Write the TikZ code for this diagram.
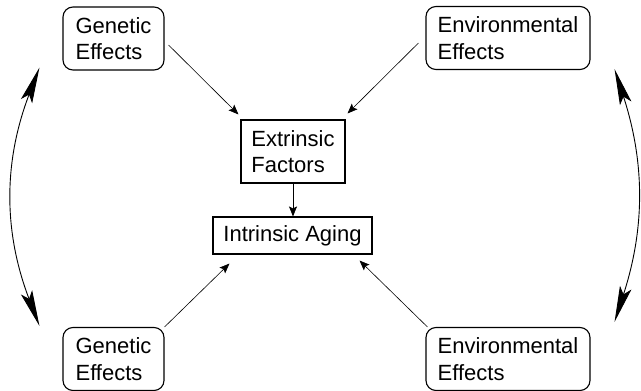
\documentclass[tikz,border=0pt]{standalone}
\usepackage{fontspec}
\setmainfont{Liberation Sans}
\usetikzlibrary{arrows.meta,positioning}

\begin{document}
\begin{tikzpicture}[x=1pt,y=-1pt,
    every node/.style={font=\fontsize{22}{26.5}\selectfont, inner sep=0pt},
    effectbox/.style={draw, line width=1.1pt, rounded corners=10pt, align=left, minimum height=63pt},
    factorbox/.style={draw, line width=1.1pt, align=left},
    link/.style={line width=0.6pt, -{Stealth[length=10pt,width=8pt,inset=2pt]}},
    swing/.style={line width=0.9pt, {Stealth[length=36pt,width=12pt,inset=7pt]}-{Stealth[length=36pt,width=12pt,inset=7pt]}}]
    \useasboundingbox (0,0) rectangle (641,391);

    % The four sources of influence, one per corner
    \foreach \name/\x/\y/\w/\txt in {gtop/113.5/38.5/101/{Genetic\\Effects},
                                    etop/508/38/164/{Environmental\\Effects},
                                    gbot/113.5/359/101/{Genetic\\Effects},
                                    ebot/508/359/164/{Environmental\\Effects}}{
        \node[effectbox, minimum width=\w pt] (\name) at (\x,\y) {\txt};
    }

    % Middle column
    \node[factorbox, minimum width=104pt, minimum height=63pt] (ext) at (293,151.5) {Extrinsic\\Factors};
    \node[factorbox, minimum width=159pt, minimum height=37pt] (intr) at (292.5,235.5) {Intrinsic Aging};

    % Thin arrows into the middle boxes
    \draw[link] ([shift={(4,6.5)}]gtop.east) -- ([shift={(-2,-5)}]ext.north west);
    \draw[link] ([shift={(-7,5)}]etop.west) -- ([shift={(2,-6)}]ext.north east);
    \draw[link] (ext.south) -- (ext.south |- intr.north);
    \draw[link] (gbot.north east) -- ([shift={(17,9)}]intr.south west);
    \draw[link] ([shift={(2,0)}]ebot.north west) -- ([shift={(-13,6)}]intr.south east);

    % Big two-way arrows on both sides
    \draw[swing] ([shift={(-23,-3)}]gtop.south west) to[bend right=21] ([shift={(-23,-1)}]gbot.north west);
    \draw[swing] ([shift={(24,-1)}]etop.south east) to[bend left=18] ([shift={(24,-5)}]ebot.north east);
\end{tikzpicture}
\end{document}
